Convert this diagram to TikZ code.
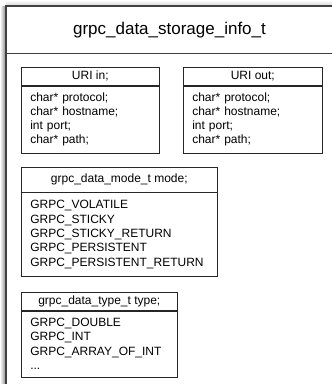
\documentclass[tikz,border=0pt]{standalone}
\usepackage{fontspec}
\setmainfont{Liberation Sans}
\usetikzlibrary{positioning,shapes}

\begin{document}
\begin{tikzpicture}[x=1pt,y=-1pt,node distance=0pt, semithick]
\tikzstyle{every node}=[font=\fontsize{12}{14.3}\selectfont, inner sep=0pt, text=black]
\tikzstyle{head}=[draw=black!85, anchor=north west, minimum height=18pt]
\tikzstyle{body}=[draw=black!85, align=left, inner xsep=9pt]
\useasboundingbox (0,0) rectangle (332,384);
 %shadow
 \shade[left color=white, right color=black!45] (0,6) rectangle (5.5,386);
 \shade[top color=white, bottom color=black!15] (6,0) rectangle (334,5.5);
 %frame
 \fill[white] (6,6) rectangle (334,386);
 \draw[black!75, line width=1.2pt] (334,6) -- (6,6) -- (6,386);
 \draw[black!75, line width=0.9pt] (6,53) -- (334,53);
\node (title) at (169.5,30.5) {\fontsize{17}{20}\selectfont grpc\_data\_storage\_info\_t};
 %boxes
\node[head, minimum width=138pt] (uriin) at (21,67) {URI in;};
\node[body, text width=120pt, minimum height=67pt, below=of uriin] (uriinvals)
  {char* protocol;\\char* hostname;\\int port;\\char* path;};
\node[head, minimum width=139pt] (uriout) at (183,67) {URI out;};
\node[body, text width=121pt, minimum height=67pt, below=of uriout] (urioutvals)
  {char* protocol;\\char* hostname;\\int port;\\char* path;};
\node[head, minimum width=196pt, minimum height=24.5pt] (mode) at (21,167) {grpc\_data\_mode\_t mode;};
\node[body, text width=178pt, minimum height=84pt, below=of mode] (modevals)
  {GRPC\_VOLATILE\\GRPC\_STICKY\\GRPC\_STICKY\_RETURN\\GRPC\_PERSISTENT\\GRPC\_PERSISTENT\_RETURN};
\node[head, minimum width=156pt] (type) at (21,292) {grpc\_data\_type\_t type;};
\node[body, text width=138pt, minimum height=66pt, below=of type] (typevals)
  {GRPC\_DOUBLE\\GRPC\_INT\\GRPC\_ARRAY\_OF\_INT\\...};
\end{tikzpicture}
\end{document}
